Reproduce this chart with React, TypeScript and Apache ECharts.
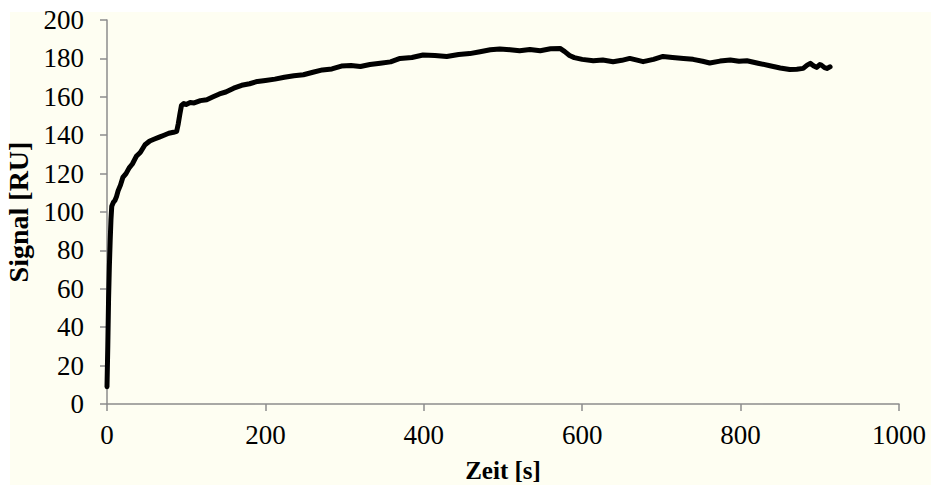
import React, { useEffect, useRef } from "react";
import * as echarts from "echarts";

const timeS: number[] = [
  0, 1, 2, 3, 4, 5, 6, 8, 10, 12, 14, 17, 20, 24, 28, 32, 37, 42, 48, 54, 60, 66, 72, 78, 84, 88,
  90, 92, 94, 97, 100, 105, 110, 118, 126, 134, 142, 150, 160, 170, 180, 190, 200, 212, 224, 236,
  248, 260, 272, 284, 296, 308, 320, 332, 345, 358, 370, 385, 399, 414, 429, 444, 458, 471, 484,
  496, 509, 521, 534, 547, 560, 572, 578, 584, 590, 600, 614, 626, 639, 650, 660, 668, 677, 690,
  702, 714, 728, 740, 752, 761, 774, 787, 798, 808, 822, 837, 850, 862, 871, 879, 884, 888, 892,
  896, 900, 902, 906, 909, 913,
];

const signalRU: number[] = [
  9, 30, 55, 72, 85, 96, 103, 105, 106, 108, 111, 114, 118, 120, 123, 125, 129, 131, 135, 137,
  138, 139, 140, 141, 141.5, 142, 146, 151, 155.5, 156.5, 156, 157, 156.8, 158, 158.5, 160,
  161.5, 162.5, 164.5, 166, 166.8, 168, 168.5, 169.2, 170.2, 171, 171.5, 172.8, 174, 174.5, 176,
  176.3, 175.8, 176.8, 177.5, 178.2, 180, 180.5, 181.8, 181.5, 181, 182, 182.5, 183.5, 184.5,
  184.9, 184.5, 184, 184.6, 184, 185, 185.2, 183.5, 181.5, 180.4, 179.5, 178.8, 179.2, 178.3,
  179, 180, 179.2, 178.3, 179.5, 181, 180.5, 180, 179.5, 178.5, 177.6, 178.6, 179.2, 178.5,
  178.8, 177.5, 176.2, 175, 174.2, 174.4, 174.8, 176.5, 177.4, 176.2, 175.3, 176.8, 176.5, 175.2,
  174.8, 175.6,
];

const xTicks = { min: 0, max: 1000, interval: 200 };
const yTicks = { min: 0, max: 200, interval: 20 };
const xName = "Zeit [s]";
const yName = "Signal [RU]";

export default function App() {
  const ref = useRef<HTMLDivElement>(null);
  useEffect(() => {
    document.body.style.margin = "0";
    const chart = echarts.init(ref.current!, null, { renderer: "svg" });
    const font = "Liberation Serif";
    chart.setOption({
      animation: false,
      backgroundColor: "#ffffff",
      textStyle: { fontFamily: font },
      graphic: [
        {
          type: "rect",
          z: -10,
          silent: true,
          shape: { x: 10, y: 12, width: 921, height: 473 },
          style: { fill: "#fefef2" },
        },
      ],
      grid: { left: 107, right: 32, top: 20, bottom: 81, outerBoundsMode: "none", containLabel: false },
      xAxis: {
        type: "value",
        min: xTicks.min,
        max: xTicks.max,
        interval: xTicks.interval,
        name: xName,
        nameLocation: "middle",
        nameGap: 54,
        nameTextStyle: { fontFamily: font, fontSize: 25, fontWeight: "bold", color: "#000" },
        axisLine: { show: true, lineStyle: { color: "#8c8c8c", width: 1.5 } },
        axisTick: { show: true, length: 7, lineStyle: { color: "#8c8c8c", width: 1.5 } },
        axisLabel: {
          fontFamily: font,
          fontSize: 27,
          color: "#000",
          margin: 17,
          formatter: (v: number) => String(v),
        },
        splitLine: { show: false },
      },
      yAxis: {
        type: "value",
        min: yTicks.min,
        max: yTicks.max,
        interval: yTicks.interval,
        name: yName,
        nameLocation: "middle",
        nameGap: 75,
        nameRotate: 90,
        nameTextStyle: { fontFamily: font, fontSize: 28, fontWeight: "bold", color: "#000" },
        axisLine: { show: true, lineStyle: { color: "#8c8c8c", width: 1.5 } },
        axisTick: { show: true, length: 7, lineStyle: { color: "#8c8c8c", width: 1.5 } },
        axisLabel: {
          fontFamily: font,
          fontSize: 27,
          color: "#000",
          margin: 23,
          formatter: (v: number) => String(v),
        },
        splitLine: { show: false },
      },
      series: [
        {
          type: "line",
          data: timeS.map((t, i) => [t, signalRU[i]]),
          showSymbol: false,
          symbol: "none",
          lineStyle: { color: "#000", width: 5, join: "round", cap: "round" },
          z: 3,
        },
      ],
    });
    return () => chart.dispose();
  }, []);
  return (
    <div
      ref={ref}
      style={{ position: "absolute", left: 0, top: 0, width: 931, height: 485 }}
    />
  );
}
